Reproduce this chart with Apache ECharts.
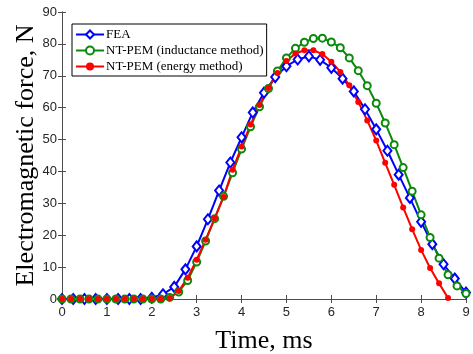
<!DOCTYPE html>
<html>
<head>
<meta charset="utf-8">
<script src="https://cdn.jsdelivr.net/npm/echarts@6/dist/echarts.min.js"></script>
<style>
html, body { margin: 0; padding: 0; background: #fff; }
#main { width: 473px; height: 354px; }
</style>
</head>
<body>
<div id="main"></div>
<script>
// Electromagnetic force vs time

var xTicks = ['0', '1', '2', '3', '4', '5', '6', '7', '8', '9'];

// FEA, 0.25 ms step
var feaT = [0, 0.25, 0.5, 0.75, 1, 1.25, 1.5, 1.75, 2, 2.25, 2.5, 2.75, 3, 3.25, 3.5, 3.75, 4, 4.25, 4.5,
    4.75, 5, 5.25, 5.5, 5.75, 6, 6.25, 6.5, 6.75, 7, 7.25, 7.5, 7.75, 8, 8.25, 8.5, 8.75, 9];
var feaF = [0, 0, 0, 0, 0, 0, 0, 0, 0.4, 1.5, 3.8, 9.3, 16.5, 25, 34, 42.8, 50.7, 58.5, 64.7,
    69.6, 73, 75.1, 76.1, 75, 72.5, 69.1, 65.1, 59.5, 53.2, 46.5, 39, 31.7, 24.2, 17.2, 10.9, 6.4, 2];

// NT-PEM (inductance method), 0.2 ms step
var indT = [0, 0.2, 0.4, 0.6, 0.8, 1, 1.2, 1.4, 1.6, 1.8, 2, 2.2, 2.4, 2.6, 2.8, 3, 3.2, 3.4, 3.6, 3.8,
    4, 4.2, 4.4, 4.6, 4.8, 5, 5.2, 5.4, 5.6, 5.8, 6, 6.2, 6.4, 6.6, 6.8, 7, 7.2, 7.4, 7.6, 7.8,
    8, 8.2, 8.4, 8.6, 8.8, 9];
var indF = [0, 0, 0, 0, 0, 0, 0, 0, 0, 0, 0, 0, 0.5, 2.2, 5.8, 11.6, 18.2, 25.2, 32.2, 39.6,
    47, 54, 60.3, 66, 71.5, 75.6, 78.6, 80.5, 81.7, 81.8, 80.6, 78.8, 75.6, 71.6, 66.9, 61.4, 55.2, 48.4, 41.2, 33.8,
    26.4, 19.3, 12.8, 7.6, 4.1, 1.7];

// NT-PEM (energy method), 0.2 ms step
var engT = [0, 0.2, 0.4, 0.6, 0.8, 1, 1.2, 1.4, 1.6, 1.8, 2, 2.2, 2.4, 2.6, 2.8, 3, 3.2, 3.4, 3.6, 3.8,
    4, 4.2, 4.4, 4.6, 4.8, 5, 5.2, 5.4, 5.6, 5.8, 6, 6.2, 6.4, 6.6, 6.8, 7, 7.2, 7.4, 7.6, 7.8,
    8, 8.2, 8.4, 8.6];
var engF = [0, 0, 0, 0, 0, 0, 0, 0, 0, 0, 0, 0, 0.3, 2.5, 6.7, 12.3, 18.6, 25.3, 32, 40.5,
    47.8, 54.7, 60.8, 66.2, 70.9, 74.6, 77, 78, 78, 76.8, 74.4, 71.2, 67, 61.8, 56, 49.7, 42.7, 35.8, 28.7, 21.9,
    15.4, 9.7, 4.9, 0.3];

function pairs(t, f) {
    var out = [];
    for (var i = 0; i < t.length; i++) {
        out.push([t[i], f[i]]);
    }
    return out;
}

var axisCol = '#4d4d4d';
var serif = "'Liberation Serif', 'DejaVu Serif', serif";
var sans = "'Liberation Sans', Arial, sans-serif";

var chart = echarts.init(document.getElementById('main'));
chart.setOption({
    animation: false,
    backgroundColor: '#fff',
    grid: {
        left: 62,
        right: 7,
        top: 12,
        bottom: 55,
        outerBoundsMode: 'none'
    },
    legend: {
        orient: 'vertical',
        left: 72,
        top: 24,
        padding: [4, 3, 3, 3],
        itemGap: 3,
        itemWidth: 28,
        itemHeight: 10,
        borderColor: '#000',
        borderWidth: 1,
        backgroundColor: '#fff',
        textStyle: {
            fontFamily: serif,
            fontSize: 13,
            color: '#000',
            padding: [0, 0, 0, -3]
        },
        data: ['FEA', 'NT-PEM (inductance method)', 'NT-PEM (energy method)']
    },
    xAxis: [{
        type: 'value',
        min: 0,
        max: 9,
        interval: 1,
        name: 'Time, ms',
        nameLocation: 'middle',
        nameGap: 29,
        nameMoveOverlap: false,
        nameTextStyle: {
            fontFamily: serif,
            fontSize: 26,
            color: '#000'
        },
        axisLine: { lineStyle: { color: axisCol, width: 1 } },
        axisTick: { inside: true, length: 4, lineStyle: { color: axisCol } },
        axisLabel: {
            fontFamily: sans,
            fontSize: 13,
            color: '#262626',
            margin: 7,
            formatter: function (v) { return xTicks[Math.round(v)]; }
        },
        splitLine: { show: false }
    }, {
        type: 'value',
        position: 'top',
        min: 0,
        max: 9,
        interval: 1,
        axisLine: { show: true, lineStyle: { color: axisCol, width: 1 } },
        axisTick: { inside: true, length: 4, lineStyle: { color: axisCol } },
        axisLabel: { show: false },
        splitLine: { show: false }
    }],
    yAxis: [{
        type: 'value',
        min: 0,
        max: 90,
        interval: 10,
        name: 'Electromagnetic force, N',
        nameLocation: 'middle',
        nameGap: 23,
        nameMoveOverlap: false,
        nameTextStyle: {
            fontFamily: serif,
            fontSize: 26,
            color: '#000'
        },
        axisLine: { show: true, lineStyle: { color: axisCol, width: 1 } },
        axisTick: { show: true, inside: true, length: 4, lineStyle: { color: axisCol } },
        axisLabel: {
            fontFamily: sans,
            fontSize: 13,
            color: '#262626',
            margin: 5
        },
        splitLine: { show: false }
    }, {
        type: 'value',
        position: 'right',
        min: 0,
        max: 90,
        interval: 10,
        axisLine: { show: true, lineStyle: { color: axisCol, width: 1 } },
        axisTick: { show: true, inside: true, length: 4, lineStyle: { color: axisCol } },
        axisLabel: { show: false },
        splitLine: { show: false }
    }],
    series: [{
        name: 'FEA',
        type: 'line',
        data: pairs(feaT, feaF),
        symbol: 'emptyDiamond',
        symbolSize: [8, 10],
        lineStyle: { color: '#0000ff', width: 2 },
        itemStyle: { color: '#0000ff', borderWidth: 2 }
    }, {
        name: 'NT-PEM (inductance method)',
        type: 'line',
        data: pairs(indT, indF),
        symbol: 'emptyCircle',
        symbolSize: 7,
        lineStyle: { color: '#0a8a0a', width: 2 },
        itemStyle: { color: '#0a8a0a', borderWidth: 1.6 }
    }, {
        name: 'NT-PEM (energy method)',
        type: 'line',
        data: pairs(engT, engF),
        symbol: 'circle',
        symbolSize: 6,
        lineStyle: { color: '#ff0000', width: 2 },
        itemStyle: { color: '#ff0000' }
    }]
});
</script>
</body>
</html>
